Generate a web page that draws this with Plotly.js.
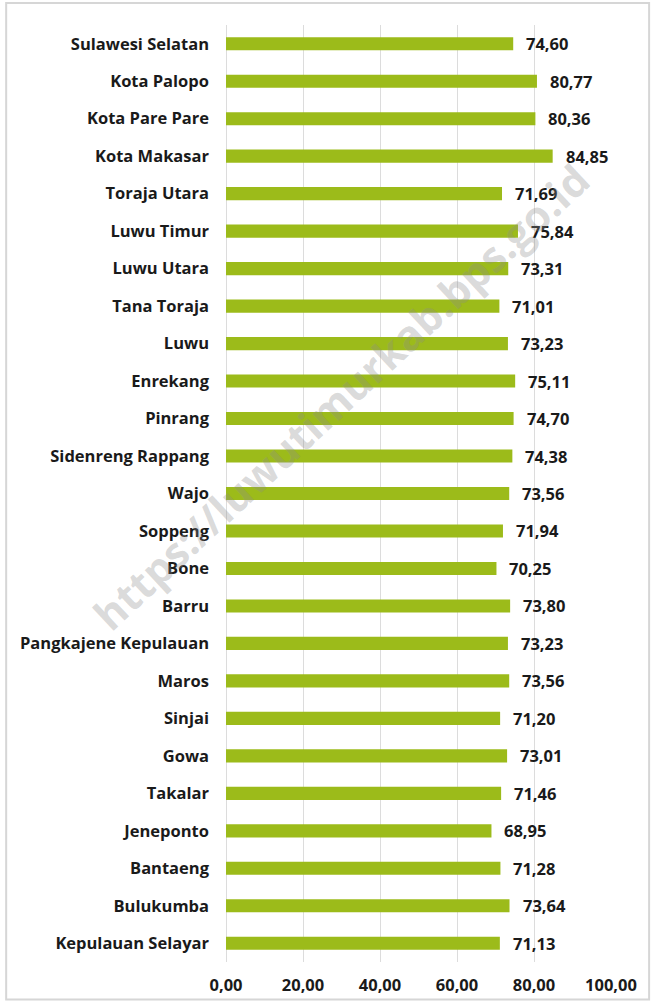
<!DOCTYPE html>
<html>
<head>
<meta charset="utf-8">
<script src="https://cdn.plot.ly/plotly-3.0.1.min.js"></script>
<style>
  html, body { margin: 0; padding: 0; background: #ffffff; }
  #chart { width: 652px; height: 1003px; }
</style>
</head>
<body>
<div id="chart"></div>
<script>
const categories = [
  "Sulawesi Selatan", "Kota Palopo", "Kota Pare Pare", "Kota Makasar", "Toraja Utara",
  "Luwu Timur", "Luwu Utara", "Tana Toraja", "Luwu", "Enrekang",
  "Pinrang", "Sidenreng Rappang", "Wajo", "Soppeng", "Bone",
  "Barru", "Pangkajene Kepulauan", "Maros", "Sinjai", "Gowa",
  "Takalar", "Jeneponto", "Bantaeng", "Bulukumba", "Kepulauan Selayar"
];
const values = [
  74.60, 80.77, 80.36, 84.85, 71.69,
  75.84, 73.31, 71.01, 73.23, 75.11,
  74.70, 74.38, 73.56, 71.94, 70.25,
  73.80, 73.23, 73.56, 71.20, 73.01,
  71.46, 68.95, 71.28, 73.64, 71.13
];
const tickValues = [0, 20, 40, 60, 80, 100];
const tickLabels = ["0,00", "20,00", "40,00", "60,00", "80,00", "100,00"];
const watermark = "https://luwutimurkab.bps.go.id";

const fmt = v => v.toFixed(2).replace(".", ",");
const textFont = { family: "'Open Sans', sans-serif", size: 16.5, color: "#1a1a1a", weight: 700 };

const labelAnnotations = categories.map((c, i) => ({
  x: values[i], y: c, xref: "x", yref: "y",
  text: fmt(values[i]), showarrow: false,
  xanchor: "left", yanchor: "middle", xshift: 11,
  font: textFont
}));

const trace = {
  type: "bar", orientation: "h",
  x: values, y: categories,
  marker: { color: "#9cbb1a" },
  hoverinfo: "none"
};

const layout = {
  width: 652, height: 1003,
  margin: { l: 226, r: 41, t: 25, b: 41 },
  paper_bgcolor: "#ffffff", plot_bgcolor: "#ffffff",
  bargap: 0.65,
  showlegend: false,
  xaxis: {
    range: [0, 100], tickvals: tickValues, ticktext: tickLabels,
    showgrid: true, gridcolor: "#dcdcdc", gridwidth: 1,
    zeroline: true, zerolinecolor: "#dcdcdc", zerolinewidth: 1,
    showline: false, ticks: "", ticklabelstandoff: 11,
    tickfont: textFont, fixedrange: true
  },
  yaxis: {
    type: "category", autorange: "reversed",
    showgrid: false, zeroline: false, showline: false, ticks: "",
    ticklabelstandoff: 16, tickfont: textFont, fixedrange: true
  },
  annotations: labelAnnotations.concat([{
    xref: "paper", yref: "paper", x: 0.298, y: 0.603,
    xanchor: "center", yanchor: "middle",
    text: watermark, showarrow: false, textangle: -43,
    font: { family: "'Open Sans', sans-serif", size: 42, color: "rgba(140,140,140,0.32)", weight: 700 }
  }]),
  shapes: [{
    type: "rect", xref: "paper", yref: "paper",
    x0: -0.571, x1: 1.099, y0: -0.04, y1: 1.0235,
    line: { color: "#d6d6d6", width: 2 }, fillcolor: "rgba(0,0,0,0)", layer: "below"
  }]
};

Plotly.newPlot("chart", [trace], layout, { displayModeBar: false, staticPlot: true });
</script>
</body>
</html>
